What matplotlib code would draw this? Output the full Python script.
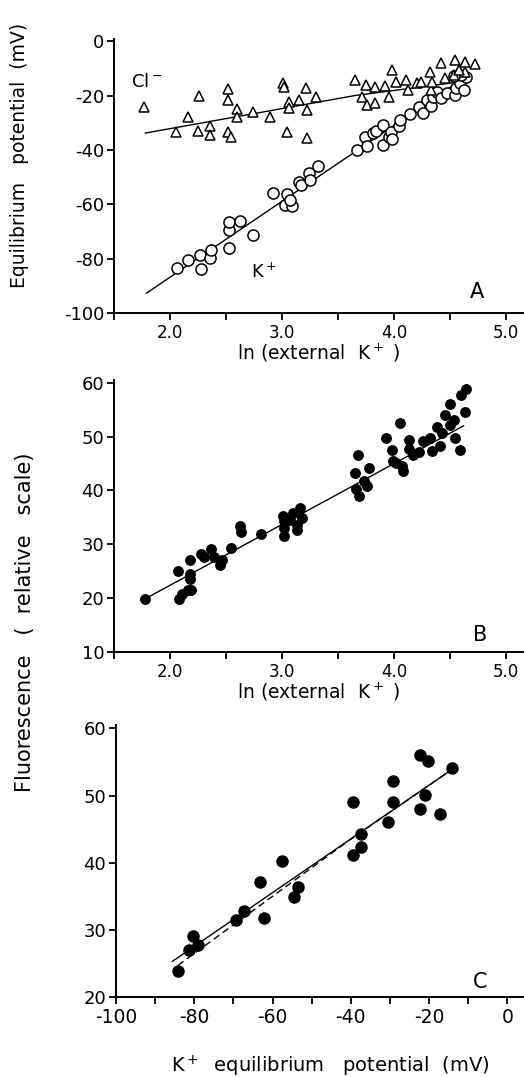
import matplotlib

matplotlib.use("Agg")
import matplotlib.pyplot as plt

plt.rcParams["font.family"] = ["DejaVu Sans"]
plt.rcParams["axes.unicode_minus"] = False

# panel A: K+ equilibrium potential (open circles)
k_lnk = [2.06, 2.16, 2.27, 2.28, 2.36, 2.37, 2.53, 2.53, 2.53, 2.62, 2.74, 2.92,
         3.04, 3.03, 3.09, 3.07, 3.15, 3.17, 3.24, 3.25, 3.32, 3.67, 3.74, 3.76,
         3.81, 3.84, 3.90, 3.90, 3.95, 3.97, 3.98, 4.04, 4.05, 4.14, 4.22, 4.26,
         4.29, 4.33, 4.35, 4.38, 4.42, 4.47, 4.54, 4.55, 4.59, 4.62, 4.64, 4.60, 4.53]
k_emv = [-83.5, -80.4, -78.5, -83.8, -79.8, -76.7, -76.1, -69.4, -66.7, -66.3, -71.2, -56.0,
         -56.3, -60.2, -60.8, -58.4, -51.7, -52.9, -48.6, -51.0, -45.8, -40.0, -35.1, -38.6,
         -33.9, -33.0, -30.8, -38.2, -35.1, -33.3, -36.1, -31.2, -29.0, -26.8, -24.4, -26.6,
         -21.7, -23.9, -20.4, -18.6, -21.0, -19.2, -19.8, -17.4, -15.3, -18.0, -13.3, -12.5, -12.9]
k_fit_x = [1.79, 4.65]
k_fit_y = [-92.7, -12.8]

# panel A: Cl- equilibrium potential (open triangles)
cl_lnk = [1.77, 2.05, 2.16, 2.26, 2.25, 2.36, 2.36, 2.52, 2.52, 2.52, 2.54, 2.60, 2.60,
          2.74, 2.89, 3.01, 3.02, 3.06, 3.06, 3.04, 3.15, 3.21, 3.22, 3.22, 3.30, 3.65,
          3.75, 3.71, 3.76, 3.83, 3.83, 3.92, 3.95, 3.98, 4.02, 4.11, 4.12, 4.20, 4.24,
          4.32, 4.33, 4.34, 4.42, 4.45, 4.54, 4.63, 4.53, 4.63, 4.72, 4.58]
cl_emv = [-24.1, -33.3, -28.0, -20.1, -33.0, -31.2, -34.5, -17.7, -21.7, -33.3, -35.1, -25.1, -27.8,
          -25.9, -27.8, -15.5, -17.0, -22.3, -24.7, -33.3, -21.7, -17.4, -25.3, -35.7, -20.7, -14.3,
          -16.2, -20.4, -23.5, -17.0, -22.9, -16.5, -20.4, -10.6, -14.9, -14.3, -18.0, -15.3, -14.9,
          -11.3, -18.0, -14.9, -8.2, -13.7, -7.0, -7.6, -12.5, -11.3, -8.4, -10.6]
cl_fit_x = [1.78, 3.65, 4.62]
cl_fit_y = [-33.8, -20.0, -14.8]

# panel B: fluorescence vs ln(external K+)
b_lnk = [1.78, 2.07, 2.08, 2.11, 2.16, 2.19, 2.18, 2.18, 2.18, 2.28, 2.30, 2.37, 2.39,
         2.45, 2.46, 2.54, 2.62, 2.63, 2.81, 3.01, 3.02, 3.02, 3.02, 3.07, 3.10, 3.13,
         3.13, 3.16, 3.18, 3.68, 3.65, 3.66, 3.69, 3.73, 3.76, 3.78, 3.93, 3.98, 3.99,
         4.02, 4.05, 4.07, 4.08, 4.13, 4.13, 4.17, 4.22, 4.26, 4.32, 4.34, 4.38, 4.41,
         4.43, 4.45, 4.50, 4.50, 4.54, 4.59, 4.60, 4.64, 4.63, 4.53]
b_fluo = [19.9, 25.0, 19.8, 20.8, 21.6, 21.5, 23.6, 24.5, 27.1, 28.2, 27.6, 29.1, 27.6,
          26.1, 27.1, 29.4, 33.4, 32.2, 32.0, 35.2, 34.3, 33.1, 31.6, 34.6, 35.8, 33.6,
          32.7, 36.7, 34.9, 46.6, 43.3, 40.2, 39.0, 41.8, 40.8, 44.2, 49.8, 47.5, 45.4,
          45.1, 52.5, 44.5, 43.6, 49.4, 47.6, 46.6, 47.2, 49.1, 49.7, 47.3, 51.8, 48.2,
          50.6, 54.0, 56.1, 52.1, 49.7, 47.5, 57.7, 58.8, 54.5, 53.1]
b_fit_x = [1.78, 4.62]
b_fit_y = [19.9, 52.0]

# panel C: fluorescence vs K+ equilibrium potential
c_emv = [-84.1, -81.4, -80.3, -79.0, -69.3, -67.2, -63.3, -62.2, -57.5, -54.4, -53.5, -39.5,
         -39.4, -37.5, -37.5, -30.4, -29.2, -29.2, -22.3, -20.4, -22.2, -21.1, -17.1, -14.1]
c_fluo = [23.8, 27.0, 29.1, 27.8, 31.5, 32.8, 37.1, 31.8, 40.2, 34.9, 36.4, 49.1,
          41.1, 44.2, 42.3, 46.1, 52.2, 49.1, 56.1, 55.2, 48.0, 50.1, 47.2, 54.1]
c_fit_x = [-85.6, -14.1]
c_fit_y = [25.3, 53.9]
c_dash_x = [-84.2, -40.0, -14.1]
c_dash_y = [24.7, 43.5, 53.9]

W, H = 524, 1077
fig = plt.figure(figsize=(W / 100, H / 100), dpi=100)
fig.patch.set_facecolor("white")


def px_axes(x0, x1, y_top, y_bot):
    return fig.add_axes([x0 / W, 1 - y_bot / H, (x1 - x0) / W, (y_bot - y_top) / H])


def style(ax):
    for s in ("top", "right"):
        ax.spines[s].set_visible(False)
    for s in ("left", "bottom"):
        ax.spines[s].set_linewidth(1.4)
    ax.tick_params(direction="out", length=5, width=1.3, labelsize=13, pad=2)
    ax.tick_params(axis="x", labelsize=12, pad=3)


XLAB = r"ln (external  K$^+$ )"

# ---- A
axA = px_axes(114, 523, 39, 313)
axA.plot(k_fit_x, k_fit_y, color="black", lw=1.0)
axA.plot(cl_fit_x, cl_fit_y, color="black", lw=1.0)
axA.plot(k_lnk, k_emv, "o", ms=8, mfc="white", mec="black", mew=1.1, ls="none")
axA.plot(cl_lnk, cl_emv, "^", ms=7.5, mfc="white", mec="black", mew=1.1, ls="none")
axA.set_xlim(1.5, 5.15)
axA.set_ylim(-100, 0.8)
axA.set_xticks([1.5, 2.0, 2.5, 3.0, 3.5, 4.0, 4.5, 5.0])
axA.set_xticklabels(["", "2.0", "", "3.0", "", "4.0", "", "5.0"])
axA.set_yticks([0, -20, -40, -60, -80, -100])
style(axA)
axA.set_xlabel(XLAB, fontsize=13.5, labelpad=0)
axA.text(1.79, -15, r"Cl$^-$", fontsize=13, ha="center", va="center")
axA.text(2.84, -85, r"K$^+$", fontsize=13, ha="center", va="center")
axA.text(0.887, 0.075, "A", transform=axA.transAxes, fontsize=15, ha="center", va="center")

# ---- B
axB = px_axes(114, 523, 380, 652)
axB.plot(b_fit_x, b_fit_y, color="black", lw=1.0)
axB.plot(b_lnk, b_fluo, "o", ms=6.8, mfc="black", mec="black", ls="none")
axB.set_xlim(1.5, 5.15)
axB.set_ylim(10, 60.5)
axB.set_xticks([1.5, 2.0, 2.5, 3.0, 3.5, 4.0, 4.5, 5.0])
axB.set_xticklabels(["", "2.0", "", "3.0", "", "4.0", "", "5.0"])
axB.set_yticks([10, 20, 30, 40, 50, 60])
style(axB)
axB.set_xlabel(XLAB, fontsize=13.5, labelpad=0)
axB.text(0.895, 0.063, "B", transform=axB.transAxes, fontsize=15, ha="center", va="center")

# ---- C
axC = px_axes(116, 523, 725, 997)
axC.plot(c_fit_x, c_fit_y, color="black", lw=1.0)
axC.plot(c_dash_x, c_dash_y, color="black", lw=1.0, ls=(0, (5, 3)))
axC.plot(c_emv, c_fluo, "o", ms=8, mfc="black", mec="black", ls="none")
axC.set_xlim(-100, 4)
axC.set_ylim(20, 60.5)
axC.set_xticks(list(range(-100, 1, 10)))
axC.set_xticklabels([str(v) if v % 20 == 0 else "" for v in range(-100, 1, 10)])
axC.set_yticks([20, 30, 40, 50, 60])
style(axC)
axC.tick_params(axis="x", labelsize=13.5)
axC.text(0.894, 0.055, "C", transform=axC.transAxes, fontsize=15, ha="center", va="center")

fig.text(20 / W, 1 - 155 / H, "Equilibrium   potential  (mV)", rotation=90,
         fontsize=13.5, ha="center", va="center")
fig.text(25 / W, 1 - 622 / H, "Fluorescence   (  relative   scale)", rotation=90,
         fontsize=15, ha="center", va="center")
fig.text(330 / W, 1 - 1066 / H, r"K$^+$  equilibrium   potential  (mV)",
         fontsize=14, ha="center", va="center")

fig.savefig("out.png", dpi=100, facecolor="white")
